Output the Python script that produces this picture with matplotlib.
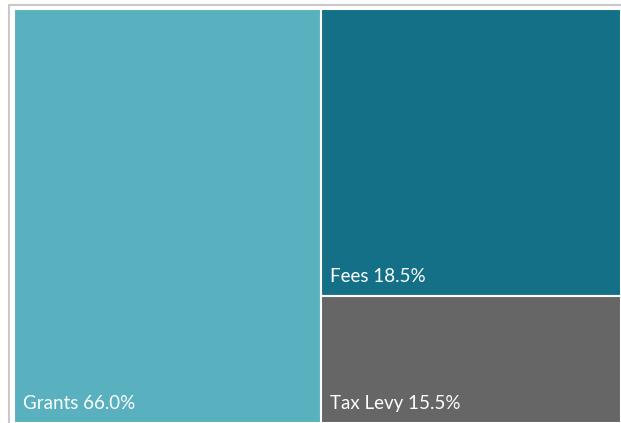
import matplotlib
matplotlib.use("Agg")
import matplotlib.pyplot as plt
from matplotlib.patches import Rectangle

# tile labels, shown shares, and tile sizes
names = ["Grants", "Fees", "Tax Levy"]
shares = [66.0, 18.5, 15.5]
tile_sizes = [50.6, 34.2, 15.2]
colors = ["#59B0BE", "#137087", "#666666"]

plt.rcParams["font.family"] = ["Lato", "DejaVu Sans"]

fig = plt.figure(figsize=(6.21, 4.23), dpi=100)
W, H = 621, 423

# light grey frame around the chart area (cut off at right and bottom)
fig.patches.append(Rectangle((9 / W, 0 - 0.01), 1.0, (H - 5) / H + 0.01,
                             transform=fig.transFigure, fill=False,
                             edgecolor="#C9C9C9", linewidth=1.5))

ax = fig.add_axes([14 / W, 0, (W - 14) / W, (H - 9) / H])
ax.set_xlim(0, 1)
ax.set_ylim(0, 1)
ax.axis("off")

# slice and dice: first tile takes a full-height column, the rest stack on the right
total = sum(tile_sizes)
w0 = tile_sizes[0] / total
rest = sum(tile_sizes[1:])
ax.bar(0, 1, width=w0, bottom=0, align="edge", color=colors[0],
       edgecolor="white", linewidth=1.5)
top = 1.0
spots = [(0, 0)]
for i in range(1, len(names)):
    h = tile_sizes[i] / rest
    ax.bar(w0, h, width=1 - w0, bottom=top - h, align="edge", color=colors[i],
           edgecolor="white", linewidth=1.5)
    spots.append((w0, top - h))
    top -= h

for (x, y), n, s in zip(spots, names, shares):
    ax.annotate(f"{n} {s:.1f}%", xy=(x, y), xytext=(9, 14),
                textcoords="offset pixels", color="white", fontsize=13.5,
                ha="left", va="baseline")

fig.savefig("out.png", dpi=100)
